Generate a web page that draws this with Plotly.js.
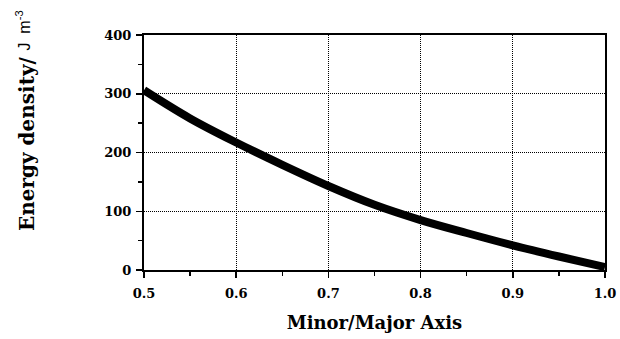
<!DOCTYPE html>
<html>
<head>
<meta charset="utf-8">
<script src="https://cdn.plot.ly/plotly-3.0.1.min.js"></script>
<style>html,body{margin:0;padding:0;background:#fff;}#chart{width:620px;height:339px;}</style>
</head>
<body>
<div id="chart"></div>
<script>
const axisRatio = [0.5, 0.55, 0.6, 0.65, 0.7, 0.75, 0.8, 0.85, 0.9, 0.95, 1.0];
const energyDensity = [306, 258, 217, 179, 143, 111, 85, 63, 42, 23, 5];
const xTicks = [0.5, 0.6, 0.7, 0.8, 0.9, 1.0];
const xTickLabels = ["0.5", "0.6", "0.7", "0.8", "0.9", "1.0"];
const yTicks = [0, 100, 200, 300, 400];

const serif = "DejaVu Serif, Liberation Serif, serif";
const sans = "Liberation Sans, Arial, sans-serif";

const trace = {
  x: axisRatio, y: energyDensity, type: "scatter", mode: "lines",
  line: {color: "#000", width: 8, shape: "spline"}, hoverinfo: "skip"
};

const layout = {
  width: 620, height: 339,
  margin: {l: 144, r: 15, t: 35, b: 69},
  paper_bgcolor: "#fff", plot_bgcolor: "#fff",
  showlegend: false,
  font: {family: serif, color: "#000", size: 13},
  xaxis: {
    range: [0.5, 1.0], tickvals: xTicks, ticktext: xTickLabels,
    ticks: "outside", ticklen: 6, tickwidth: 1.5, tickcolor: "#000",
    ticklabelstandoff: 4,
    showline: true, linecolor: "#000", linewidth: 2, mirror: true,
    showgrid: true, gridcolor: "#000", gridwidth: 1, griddash: "1px,1px",
    zeroline: false,
    minor: {dtick: 0.05, ticks: "outside", ticklen: 4, tickcolor: "#000", showgrid: false},
    tickfont: {family: serif, size: 13, weight: "bold"},
    title: {text: "<b>Minor/Major Axis</b>", font: {family: serif, size: 18}, standoff: 17}
  },
  yaxis: {
    range: [0, 400], tickvals: yTicks,
    ticks: "outside", ticklen: 6, tickwidth: 1.5, tickcolor: "#000",
    ticklabelstandoff: 2,
    showline: true, linecolor: "#000", linewidth: 2, mirror: true,
    showgrid: true, gridcolor: "#000", gridwidth: 1, griddash: "1px,1px",
    zeroline: false,
    minor: {dtick: 50, ticks: "outside", ticklen: 4, tickcolor: "#000", showgrid: false},
    tickfont: {family: serif, size: 13, weight: "bold"}
  },
  annotations: [{
    xref: "paper", yref: "paper", x: -0.254, y: 0.54,
    xanchor: "center", yanchor: "middle", textangle: -90, showarrow: false,
    text: "<b>Energy density/</b>",
    font: {family: serif, size: 20, color: "#000"}
  }, {
    xref: "paper", yref: "paper", x: -0.262, y: 1.02,
    xanchor: "center", yanchor: "middle", textangle: -90, showarrow: false,
    text: "J  m<sup>-3</sup>",
    font: {family: sans, size: 16, color: "#000"}
  }]
};

Plotly.newPlot("chart", [trace], layout, {staticPlot: true, displayModeBar: false});
</script>
</body>
</html>
